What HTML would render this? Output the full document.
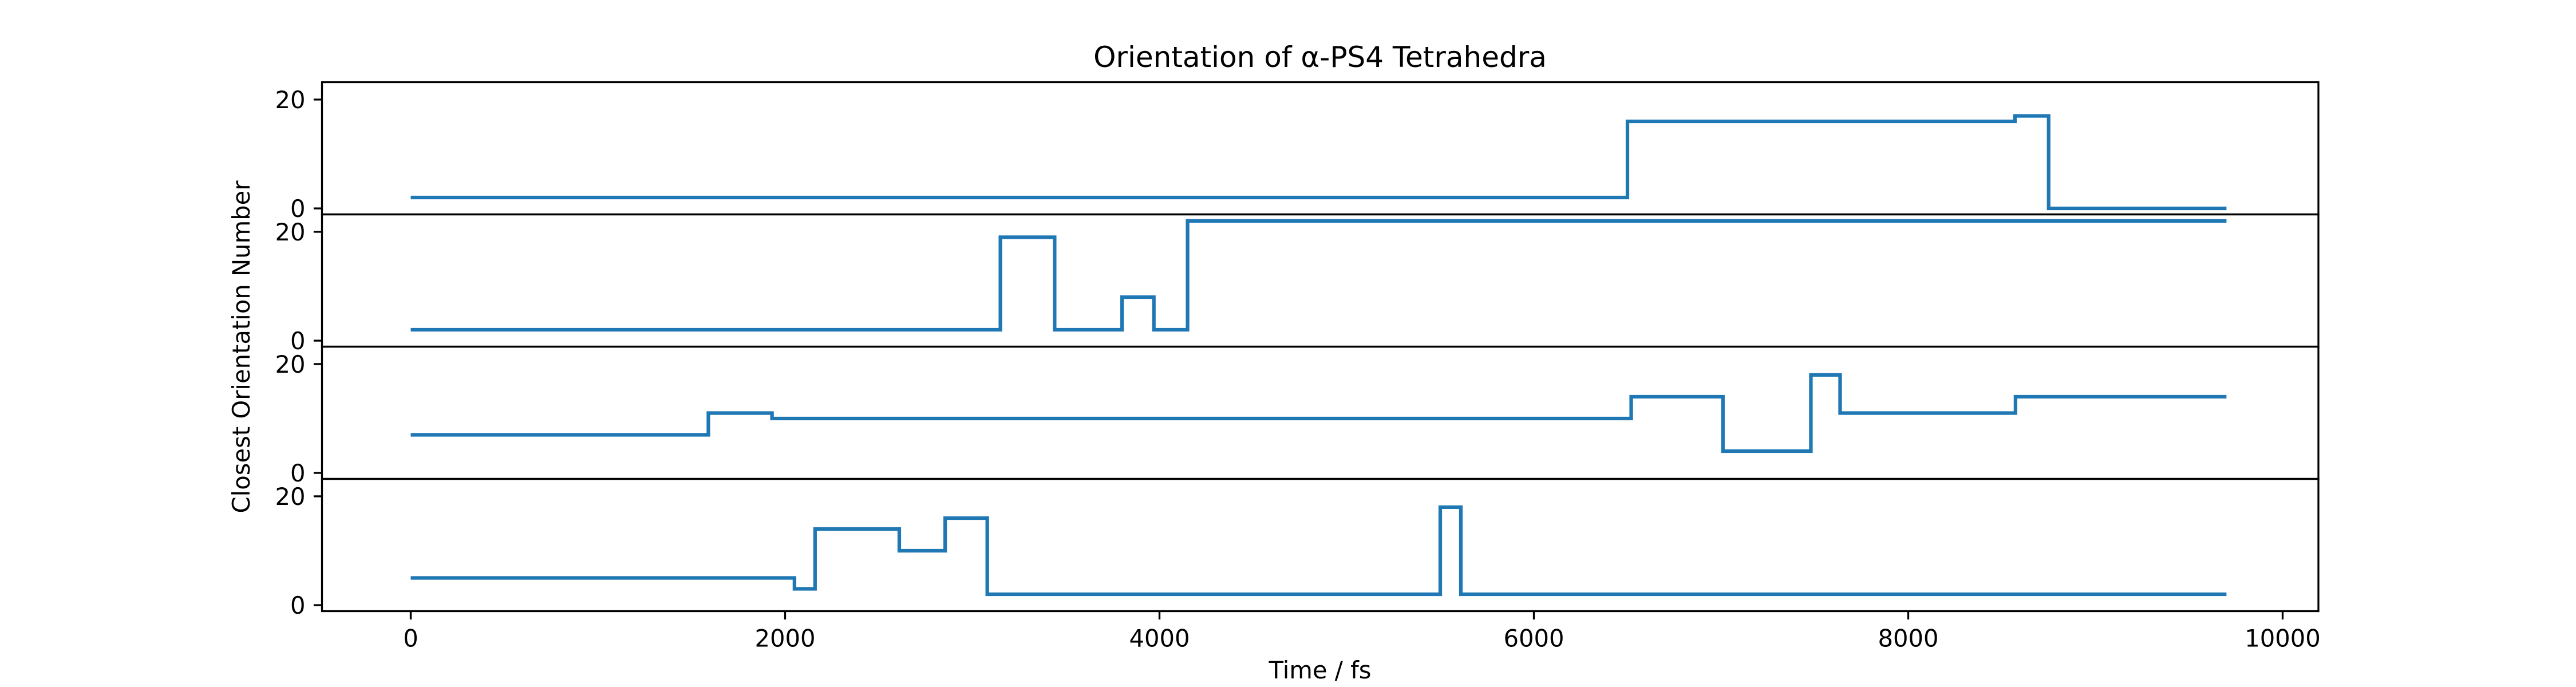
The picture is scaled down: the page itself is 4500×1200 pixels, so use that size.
<!DOCTYPE html>
<html><head><meta charset="utf-8"><style>
html,body{margin:0;padding:0;background:#fff;}
svg{display:block;font-family:"DejaVu Sans","Liberation Sans",sans-serif;}
</style></head><body>
<svg id="chart" width="4500" height="1200" viewBox="0 0 4500 1200" xmlns="http://www.w3.org/2000/svg">
<rect width="4500" height="1200" fill="#fff"/>
<text x="2306" y="117" font-size="50" text-anchor="middle">Orientation of α-PS4 Tetrahedra</text>
<text x="0" y="0" font-size="41.7" text-anchor="middle" transform="translate(436,606) rotate(-90)">Closest Orientation Number</text>
<text x="2306" y="1185" font-size="41.7" text-anchor="middle">Time / fs</text>
<g id="plots"></g>
</svg>
<script>
// step data: times where value changes, and values
const times1 = [0, 6500, 8570, 8750, 9700];
const values1 = [2, 16, 17, 0, 0];
const times2 = [0, 3150, 3440, 3800, 3970, 4150, 9700];
const values2 = [2, 19, 2, 8, 2, 22, 22];
const times3 = [0, 1590, 1930, 6520, 7010, 7480, 7636, 8573, 9700];
const values3 = [7, 11, 10, 14, 4, 18, 11, 14, 14];
const times4 = [0, 2050, 2160, 2610, 2855, 3080, 5500, 5610, 9700];
const values4 = [5, 3, 14, 10, 16, 2, 18, 2, 2];
const xTicks = [0, 2000, 4000, 6000, 8000, 10000];
const yTicks = [0, 20];

const NS = "http://www.w3.org/2000/svg";
const L = 562.5, R = 4050, T0 = 143.5, PH = 231, NP = 4;
const X0 = 717.5, XPER = 0.327;
const YMIN = -1.1, YMAX = 23.2;
function xs(v){ return X0 + v * XPER; }
function ys(v, p){ const top = T0 + p * PH; return top + PH - (v - YMIN) / (YMAX - YMIN) * PH; }
function mk(tag, attrs){ const e = document.createElementNS(NS, tag); for (const k in attrs) e.setAttribute(k, attrs[k]); return e; }
const g = document.getElementById('plots');
const series = [[times1, values1], [times2, values2], [times3, values3], [times4, values4]];
series.forEach((s, p) => {
  const [t, v] = s;
  let d = '';
  for (let i = 0; i < t.length; i++) {
    const x = xs(t[i]);
    if (i === 0) d += 'M' + x + ' ' + ys(v[0], p);
    else { d += ' L' + x + ' ' + ys(v[i-1], p) + ' L' + x + ' ' + ys(v[i], p); }
  }
  const path = mk('path', {d: d, fill: 'none', stroke: '#1f77b4', 'stroke-width': 6.25, 'stroke-linejoin': 'miter'});
  
  
  g.appendChild(path);
  yTicks.forEach(tv => {
    const y = ys(tv, p);
    const tk = mk('line', {x1: L - 14.6, x2: L, y1: y, y2: y, stroke: '#000', 'stroke-width': 3.3});
    
    
    g.appendChild(tk);
    const tx = mk('text', {x: L - 29, y: y + 15, 'font-size': 41.7, 'text-anchor': 'end'});
    tx.textContent = tv;
    
    
    g.appendChild(tx);
  });
  const frame = mk('rect', {x: L, y: T0 + p * PH, width: R - L, height: PH, fill: 'none', stroke: '#000', 'stroke-width': 3.3});
  
  
  g.appendChild(frame);
});
const bottom = T0 + NP * PH;
xTicks.forEach(tv => {
  const x = xs(tv);
  const tk = mk('line', {x1: x, x2: x, y1: bottom, y2: bottom + 14.6, stroke: '#000', 'stroke-width': 3.3});
  
  
  g.appendChild(tk);
  const tx = mk('text', {x: x, y: bottom + 62, 'font-size': 41.7, 'text-anchor': 'middle'});
  tx.textContent = tv;
  
  
  g.appendChild(tx);
});
</script>
</body></html>
